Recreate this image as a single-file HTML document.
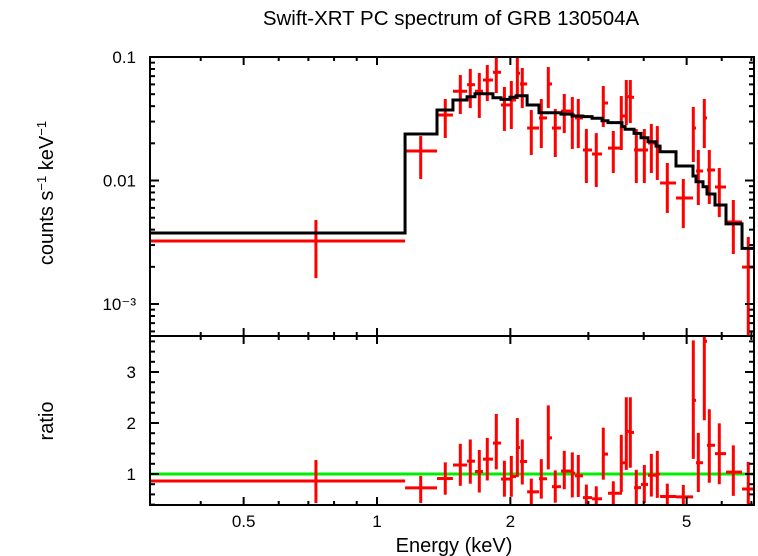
<!DOCTYPE html>
<html><head><meta charset="utf-8">
<style>
html,body{margin:0;padding:0;background:#fff;}
svg{display:block;font-family:"Liberation Sans",sans-serif;}
</style></head>
<body>
<svg id="chart" width="758" height="556" viewBox="0 0 758 556" xmlns="http://www.w3.org/2000/svg">
<text x="451" y="25" font-size="20.5" text-anchor="middle">Swift-XRT PC spectrum of GRB 130504A</text>
<text transform="translate(53,193) rotate(-90)" font-size="20" text-anchor="middle">counts s<tspan font-size="13" dy="-7">−1</tspan><tspan dy="7"> keV</tspan><tspan font-size="13" dy="-7">−1</tspan></text>
<text transform="translate(53,421) rotate(-90)" font-size="20" text-anchor="middle">ratio</text>
<text x="454" y="552" font-size="20" text-anchor="middle">Energy (keV)</text>
<g id="plot"></g>
</svg>
<script>
// ---- data ----
const binEdges = [0.307,1.157,1.366,1.484,1.597,1.664,1.735,1.827,1.905,1.996,2.060,2.103,2.182,2.321,2.420,2.483,2.602,2.756,2.799,2.917,3.058,3.221,3.322,3.573,3.630,3.726,3.804,3.944,4.090,4.265,4.355,4.731,5.168,5.250,5.444,5.558,5.794,6.135,6.668,7.208];
const energies = [0.728,1.255,1.426,1.542,1.624,1.702,1.774,1.859,1.939,2.010,2.074,2.128,2.230,2.349,2.436,2.526,2.647,2.760,2.847,2.969,3.126,3.242,3.415,3.560,3.654,3.731,3.849,4.013,4.162,4.293,4.522,4.914,5.176,5.313,5.481,5.625,5.925,6.373,6.888];
const counts = [0.00324,0.01734,0.0339,0.0528,0.0597,0.0528,0.0651,0.0752,0.0409,0.0449,0.0738,0.0605,0.0266,0.0321,0.0605,0.0266,0.0365,0.0339,0.0321,0.01766,0.01639,0.0424,0.0183,0.0333,0.0477,0.0472,0.01766,0.01766,0.0201,0.0190,0.00954,0.00722,0.0266,0.01194,0.0321,0.01216,0.00886,0.00461,0.00199];
const countsHi = [0.00479,0.0229,0.0457,0.0715,0.0800,0.0742,0.0861,0.1019,0.0572,0.0639,0.1019,0.0815,0.0372,0.0457,0.0830,0.0379,0.0502,0.0474,0.0457,0.0261,0.0242,0.0582,0.0252,0.0483,0.0651,0.0651,0.0261,0.0261,0.0287,0.0276,0.01386,0.01028,0.0394,0.01766,0.0457,0.01766,0.01262,0.00695,0.00349];
const countsLo = [0.00162,0.01028,0.0221,0.0345,0.0386,0.0321,0.0440,0.0511,0.0252,0.0261,0.0457,0.0386,0.0161,0.0183,0.0386,0.0155,0.0242,0.0180,0.0183,0.00954,0.00886,0.0271,0.0115,0.01766,0.0281,0.0292,0.00954,0.00954,0.0115,0.0101,0.00546,0.00412,0.01412,0.00633,0.0183,0.00645,0.00506,0.00254,0.0001];
const model = [0.00376,0.0238,0.0372,0.0449,0.0477,0.0504,0.0504,0.0468,0.0454,0.0472,0.0486,0.0486,0.0409,0.0354,0.0354,0.0354,0.0345,0.0333,0.0333,0.0329,0.0319,0.0305,0.0294,0.0273,0.0260,0.0260,0.0241,0.0222,0.0206,0.0190,0.0171,0.0131,0.01088,0.00978,0.00891,0.00778,0.00633,0.00445,0.00282];
const xTicksMajor = [0.5,1,2,5];
const xTickLabels = ["0.5","1","2","5"];
const yTicksTop = [0.1,0.01,0.001];
const yTickTopLabels = ["0.1","0.01","10⁻³"];
const ratioTicks = [1,2,3];
const ratioTickLabels = ["1","2","3"];

// ---- geometry ----
const L=150,R=754,T1=57,B1=336,T2=336,B2=505;
const xS = e => 377 + 443*Math.log10(e);
const yTop = c => 57 - 123.5*(Math.log10(c)+1);
const yRat = r => 474 - 51*(r-1);
const NS="http://www.w3.org/2000/svg";
const g=document.getElementById('plot');
function el(tag,attrs,parent){const e=document.createElementNS(NS,tag);for(const k in attrs)e.setAttribute(k,attrs[k]);(parent||g).appendChild(e);return e;}

const defs=el('defs',{});
const c1=el('clipPath',{id:'clipTop'},defs);el('rect',{x:L,y:T1,width:R-L,height:B1-T1},c1);
const c2=el('clipPath',{id:'clipBot'},defs);el('rect',{x:L,y:T2,width:R-L,height:B2-T2},c2);

const topG=el('g',{'clip-path':'url(#clipTop)'});


const botG=el('g',{'clip-path':'url(#clipBot)'});



for(let i=0;i<counts.length;i++){
  const pg=el('g',{},topG);
  
  
  const yc=yTop(counts[i]);
  el('line',{x1:xS(binEdges[i]),x2:xS(binEdges[i+1]),y1:yc,y2:yc,stroke:'#f00','stroke-width':3},pg);
  el('line',{x1:xS(energies[i]),x2:xS(energies[i]),y1:yTop(countsHi[i]),y2:yTop(Math.max(countsLo[i],1e-5)),stroke:'#f00','stroke-width':3},pg);
}
let d='';
for(let i=0;i<model.length;i++){
  const y=yTop(model[i]);
  d+=(i===0?'M':'L')+xS(binEdges[i])+','+y+' L'+xS(binEdges[i+1])+','+y+' ';
}
const mp=el('path',{d:d,fill:'none',stroke:'#000','stroke-width':3},topG);



const gl=el('line',{x1:L,x2:R,y1:yRat(1),y2:yRat(1),stroke:'#00ee00','stroke-width':3},botG);


for(let i=0;i<counts.length;i++){
  const pg=el('g',{},botG);
  
  
  const r=counts[i]/model[i], rh=countsHi[i]/model[i], rl=countsLo[i]/model[i];
  el('line',{x1:xS(binEdges[i]),x2:xS(binEdges[i+1]),y1:yRat(r),y2:yRat(r),stroke:'#f00','stroke-width':3},pg);
  el('line',{x1:xS(energies[i]),x2:xS(energies[i]),y1:yRat(rh),y2:yRat(rl),stroke:'#f00','stroke-width':3},pg);
}

for(const [t,b,nm] of [[T1,B1,'spectrum-frame'],[T2,B2,'ratio-frame']]){
  const f=el('rect',{x:L,y:t,width:R-L,height:b-t,fill:'none',stroke:'#000','stroke-width':2});
  
  
}
const minorX=[0.4,0.6,0.7,0.8,0.9,3,4,6,7];
function xtick(e,len){
  const x=xS(e);
  for(const [t,b] of [[T1,B1],[T2,B2]]){
    el('line',{x1:x,x2:x,y1:t,y2:t+len,stroke:'#000','stroke-width':2});
    el('line',{x1:x,x2:x,y1:b,y2:b-len,stroke:'#000','stroke-width':2});
  }
}
xTicksMajor.forEach(e=>xtick(e,8));
minorX.forEach(e=>xtick(e,4));
xTicksMajor.forEach((e,i)=>{
  const t=el('text',{x:xS(e),y:527,'font-size':17,'text-anchor':'middle'});
  t.textContent=xTickLabels[i];
  
  
});
for(let dec=-4;dec<=-1;dec++){
  for(let m=1;m<10;m++){
    const v=m*Math.pow(10,dec);
    const y=yTop(v);
    if(y<T1-0.5||y>B1)continue;
    const len=m===1?9:5;
    el('line',{x1:L,x2:L+len,y1:y,y2:y,stroke:'#000','stroke-width':2});
    el('line',{x1:R,x2:R-len,y1:y,y2:y,stroke:'#000','stroke-width':2});
  }
}
yTicksTop.forEach((v,i)=>{
  const t=el('text',{x:136,y:yTop(v)+6,'font-size':17,'text-anchor':'end'});
  t.textContent=yTickTopLabels[i];
  
  
});
for(let r=0.4;r<3.71;r+=0.2){
  const y=yRat(r);
  const major=Math.abs(r-Math.round(r))<0.01;
  const len=major?9:5;
  el('line',{x1:L,x2:L+len,y1:y,y2:y,stroke:'#000','stroke-width':2});
  el('line',{x1:R,x2:R-len,y1:y,y2:y,stroke:'#000','stroke-width':2});
}
ratioTicks.forEach((v,i)=>{
  const t=el('text',{x:136,y:yRat(v)+6,'font-size':17,'text-anchor':'end'});
  t.textContent=ratioTickLabels[i];
  
  
});
</script>
</body></html>
